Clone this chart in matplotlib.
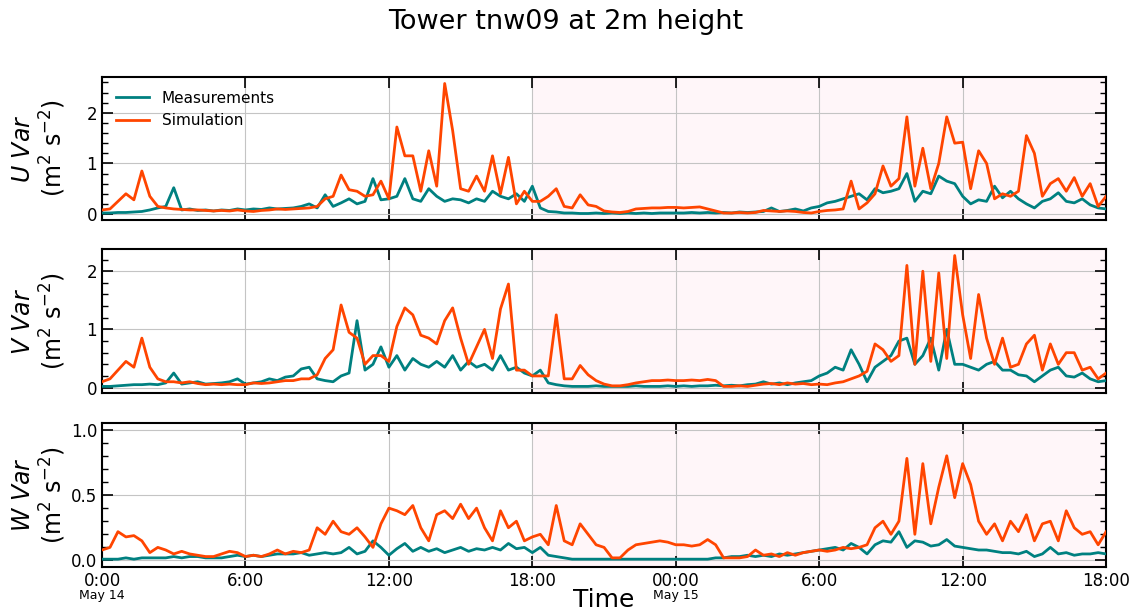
import numpy as np
import pandas as pd
import matplotlib
matplotlib.use("Agg")
import matplotlib.pyplot as plt
import matplotlib.dates as mdates
from matplotlib.ticker import MultipleLocator
import matplotlib.transforms as mtransforms

# 20-minute samples, 2023-05-14 00:00 -> 2023-05-15 18:00
times = pd.date_range("2023-05-14 00:00", periods=127, freq="20min")

u_meas = [0.02, 0.02, 0.03, 0.03, 0.04, 0.05, 0.08, 0.12, 0.15, 0.52, 0.08, 0.10,
          0.07, 0.08, 0.06, 0.08, 0.07, 0.10, 0.08, 0.10, 0.09, 0.12, 0.10, 0.11,
          0.12, 0.15, 0.20, 0.12, 0.38, 0.15, 0.22, 0.30, 0.20, 0.25, 0.70, 0.28,
          0.30, 0.35, 0.70, 0.30, 0.25, 0.50, 0.35, 0.25, 0.30, 0.28, 0.22, 0.30,
          0.25, 0.45, 0.35, 0.30, 0.40, 0.25, 0.55, 0.12, 0.05, 0.04, 0.02, 0.02,
          0.01, 0.01, 0.02, 0.01, 0.02, 0.01, 0.02, 0.01, 0.02, 0.01, 0.02, 0.02,
          0.02, 0.02, 0.03, 0.02, 0.03, 0.02, 0.03, 0.02, 0.04, 0.03, 0.04, 0.05,
          0.12, 0.05, 0.07, 0.10, 0.06, 0.12, 0.15, 0.22, 0.25, 0.30, 0.35, 0.40,
          0.28, 0.50, 0.42, 0.45, 0.50, 0.80, 0.25, 0.45, 0.40, 0.75, 0.65, 0.60,
          0.35, 0.20, 0.28, 0.25, 0.55, 0.32, 0.45, 0.30, 0.20, 0.12, 0.25, 0.30,
          0.42, 0.25, 0.22, 0.30, 0.18, 0.12, 0.10]
u_sim = [0.08, 0.10, 0.25, 0.40, 0.28, 0.85, 0.35, 0.15, 0.12, 0.10, 0.09, 0.08,
         0.08, 0.07, 0.06, 0.07, 0.06, 0.08, 0.06, 0.05, 0.07, 0.08, 0.10, 0.09,
         0.10, 0.11, 0.12, 0.15, 0.30, 0.35, 0.77, 0.48, 0.45, 0.35, 0.38, 0.65,
         0.30, 1.72, 1.15, 1.15, 0.45, 1.25, 0.55, 2.58, 1.65, 0.50, 0.45, 0.75,
         0.45, 1.15, 0.40, 1.12, 0.20, 0.45, 0.25, 0.25, 0.35, 0.50, 0.15, 0.12,
         0.38, 0.18, 0.15, 0.06, 0.04, 0.03, 0.05, 0.10, 0.11, 0.12, 0.12, 0.13,
         0.13, 0.12, 0.13, 0.14, 0.10, 0.06, 0.02, 0.02, 0.03, 0.02, 0.03, 0.07,
         0.06, 0.05, 0.06, 0.05, 0.03, 0.02, 0.05, 0.07, 0.08, 0.10, 0.65, 0.10,
         0.22, 0.40, 0.95, 0.55, 0.70, 1.92, 0.55, 1.30, 0.50, 1.00, 1.92, 1.40,
         1.42, 0.50, 1.25, 1.00, 0.30, 0.40, 0.35, 0.45, 1.55, 1.20, 0.35, 0.60,
         0.70, 0.45, 0.72, 0.35, 0.60, 0.15, 0.35]

v_meas = [0.02, 0.02, 0.03, 0.04, 0.05, 0.05, 0.06, 0.05, 0.08, 0.25, 0.06, 0.08,
          0.10, 0.06, 0.07, 0.08, 0.10, 0.15, 0.06, 0.08, 0.10, 0.15, 0.12, 0.18,
          0.20, 0.32, 0.35, 0.15, 0.12, 0.10, 0.20, 0.25, 1.15, 0.30, 0.40, 0.70,
          0.35, 0.55, 0.30, 0.50, 0.40, 0.35, 0.45, 0.35, 0.55, 0.30, 0.45, 0.35,
          0.40, 0.30, 0.55, 0.30, 0.35, 0.25, 0.20, 0.30, 0.08, 0.05, 0.03, 0.02,
          0.02, 0.02, 0.03, 0.02, 0.02, 0.02, 0.02, 0.03, 0.02, 0.02, 0.02, 0.03,
          0.02, 0.03, 0.02, 0.03, 0.03, 0.04, 0.03, 0.04, 0.03, 0.05, 0.06, 0.10,
          0.06, 0.08, 0.05, 0.08, 0.10, 0.12, 0.20, 0.25, 0.35, 0.30, 0.65, 0.40,
          0.10, 0.35, 0.45, 0.55, 0.80, 0.85, 0.40, 0.55, 0.85, 0.30, 1.00, 0.40,
          0.40, 0.35, 0.30, 0.40, 0.45, 0.30, 0.30, 0.22, 0.20, 0.10, 0.20, 0.30,
          0.35, 0.20, 0.18, 0.25, 0.15, 0.10, 0.12]
v_sim = [0.10, 0.15, 0.30, 0.45, 0.35, 0.85, 0.35, 0.15, 0.10, 0.10, 0.08, 0.10,
         0.07, 0.05, 0.06, 0.05, 0.06, 0.05, 0.05, 0.08, 0.07, 0.08, 0.10, 0.12,
         0.12, 0.15, 0.15, 0.22, 0.50, 0.65, 1.42, 0.95, 0.85, 0.40, 0.55, 0.55,
         0.45, 1.05, 1.37, 1.25, 0.90, 0.85, 0.75, 1.15, 1.37, 0.85, 0.40, 0.70,
         1.00, 0.50, 1.35, 1.78, 0.30, 0.30, 0.20, 0.20, 0.20, 1.25, 0.15, 0.15,
         0.38, 0.22, 0.12, 0.06, 0.03, 0.03, 0.05, 0.08, 0.10, 0.12, 0.12, 0.13,
         0.12, 0.12, 0.13, 0.12, 0.14, 0.12, 0.02, 0.02, 0.03, 0.02, 0.04, 0.06,
         0.07, 0.05, 0.08, 0.06, 0.07, 0.05, 0.06, 0.05, 0.08, 0.10, 0.15, 0.20,
         0.28, 0.75, 0.65, 0.45, 0.55, 2.10, 0.40, 2.00, 0.45, 1.97, 0.50, 2.27,
         1.25, 0.50, 1.60, 0.85, 0.40, 0.85, 0.35, 0.40, 0.75, 0.90, 0.30, 0.75,
         0.40, 0.60, 0.60, 0.30, 0.35, 0.15, 0.25]

w_meas = [0.01, 0.01, 0.01, 0.02, 0.01, 0.02, 0.02, 0.02, 0.02, 0.03, 0.02, 0.03,
          0.03, 0.02, 0.02, 0.02, 0.03, 0.04, 0.03, 0.04, 0.03, 0.04, 0.05, 0.05,
          0.05, 0.06, 0.04, 0.05, 0.06, 0.05, 0.06, 0.10, 0.05, 0.07, 0.15, 0.10,
          0.04, 0.09, 0.13, 0.07, 0.10, 0.07, 0.09, 0.06, 0.08, 0.10, 0.07, 0.09,
          0.08, 0.10, 0.08, 0.13, 0.09, 0.10, 0.06, 0.10, 0.04, 0.03, 0.02, 0.01,
          0.01, 0.01, 0.01, 0.01, 0.01, 0.01, 0.01, 0.01, 0.01, 0.01, 0.01, 0.01,
          0.01, 0.01, 0.01, 0.01, 0.01, 0.02, 0.02, 0.03, 0.03, 0.04, 0.03, 0.04,
          0.03, 0.05, 0.04, 0.05, 0.06, 0.07, 0.08, 0.09, 0.10, 0.08, 0.13, 0.10,
          0.05, 0.12, 0.15, 0.14, 0.22, 0.10, 0.15, 0.14, 0.11, 0.12, 0.16, 0.11,
          0.10, 0.09, 0.08, 0.08, 0.07, 0.06, 0.06, 0.05, 0.07, 0.03, 0.05, 0.10,
          0.05, 0.06, 0.04, 0.05, 0.05, 0.06, 0.05]
w_sim = [0.08, 0.10, 0.22, 0.18, 0.19, 0.15, 0.06, 0.10, 0.08, 0.05, 0.07, 0.05,
         0.04, 0.03, 0.03, 0.05, 0.07, 0.06, 0.03, 0.04, 0.03, 0.05, 0.08, 0.05,
         0.07, 0.06, 0.08, 0.25, 0.20, 0.30, 0.22, 0.20, 0.25, 0.18, 0.10, 0.28,
         0.40, 0.38, 0.35, 0.42, 0.25, 0.15, 0.35, 0.38, 0.32, 0.43, 0.32, 0.40,
         0.25, 0.15, 0.38, 0.25, 0.30, 0.15, 0.18, 0.20, 0.12, 0.42, 0.15, 0.12,
         0.28, 0.20, 0.12, 0.10, 0.02, 0.02, 0.08, 0.12, 0.13, 0.14, 0.15, 0.14,
         0.12, 0.12, 0.11, 0.12, 0.16, 0.12, 0.02, 0.02, 0.02, 0.03, 0.08, 0.04,
         0.05, 0.03, 0.06, 0.04, 0.06, 0.07, 0.08, 0.07, 0.08, 0.10, 0.09, 0.10,
         0.12, 0.25, 0.30, 0.20, 0.30, 0.78, 0.20, 0.74, 0.28, 0.56, 0.80, 0.48,
         0.74, 0.58, 0.30, 0.20, 0.28, 0.15, 0.30, 0.22, 0.35, 0.15, 0.28, 0.30,
         0.15, 0.38, 0.25, 0.20, 0.22, 0.12, 0.22]

panels = [("U", u_meas, u_sim), ("V", v_meas, v_sim), ("W", w_meas, w_sim)]
tick_labels = ["0:00", "6:00", "12:00", "18:00", "00:00", "6:00", "12:00", "18:00"]
date_labels = {0: "May 14", 4: "May 15"}

start = pd.Timestamp("2023-05-14 00:00")
end = pd.Timestamp("2023-05-15 18:00")
night_start = pd.Timestamp("2023-05-14 18:00")
ticks = pd.date_range(start, end, freq="6h")

fig = plt.figure(figsize=(11.31, 6.14), dpi=100)
boxes = [(0.0902, 0.6417, 0.8878, 0.2329),
         (0.0902, 0.3600, 0.8878, 0.2345),
         (0.0902, 0.0765, 0.8878, 0.2345)]

axes = []
for (name, meas, sim), box in zip(panels, boxes):
    ax = fig.add_axes(box)
    ax.axvspan(night_start, end, color="lavenderblush", alpha=0.6, lw=0, zorder=0)
    ax.plot(times, meas, color="teal", lw=2, label="Measurements", zorder=3)
    ax.plot(times, sim, color="orangered", lw=2, label="Simulation", zorder=3)
    ax.set_xlim(start, end)
    ax.set_xticks(ticks)
    ax.grid(True, which="major", color="#c4c4c4", lw=0.8)
    ax.tick_params(which="both", direction="in", top=True, right=True, labelsize=12)
    ax.tick_params(which="major", length=8, width=1.2)
    ax.tick_params(which="minor", length=4, width=1)
    for s in ax.spines.values():
        s.set_linewidth(1.5)
    ax.set_ylabel(f"${name}\\ Var$\n(m$^2$ s$^{{-2}}$)", fontsize=17, linespacing=1.1)
    ax.yaxis.set_label_coords(-0.034, 0.5)
    axes.append(ax)

for ax in axes[:2]:
    ax.yaxis.set_major_locator(MultipleLocator(1))
    ax.yaxis.set_minor_locator(MultipleLocator(0.2))
    ax.set_xticklabels([])

axes[2].set_ylim(-0.05, 1.05)
axes[2].yaxis.set_major_locator(MultipleLocator(0.5))
axes[2].yaxis.set_minor_locator(MultipleLocator(0.1))
axes[2].set_xticklabels(tick_labels)
trans = mtransforms.blended_transform_factory(axes[2].transData, axes[2].transAxes)
for i, lab in date_labels.items():
    axes[2].text(mdates.date2num(ticks[i]), -0.15, lab, transform=trans,
                 ha="center", va="top", fontsize=9)
axes[2].set_xlabel("Time", fontsize=18)
axes[2].xaxis.set_label_coords(0.5, -0.145)

axes[0].legend(loc="upper left", frameon=False, fontsize=11, handlelength=2.2)
fig.suptitle("Tower tnw09 at 2m height", fontsize=19.5, y=0.985)

fig.savefig("out.png", dpi=100)
